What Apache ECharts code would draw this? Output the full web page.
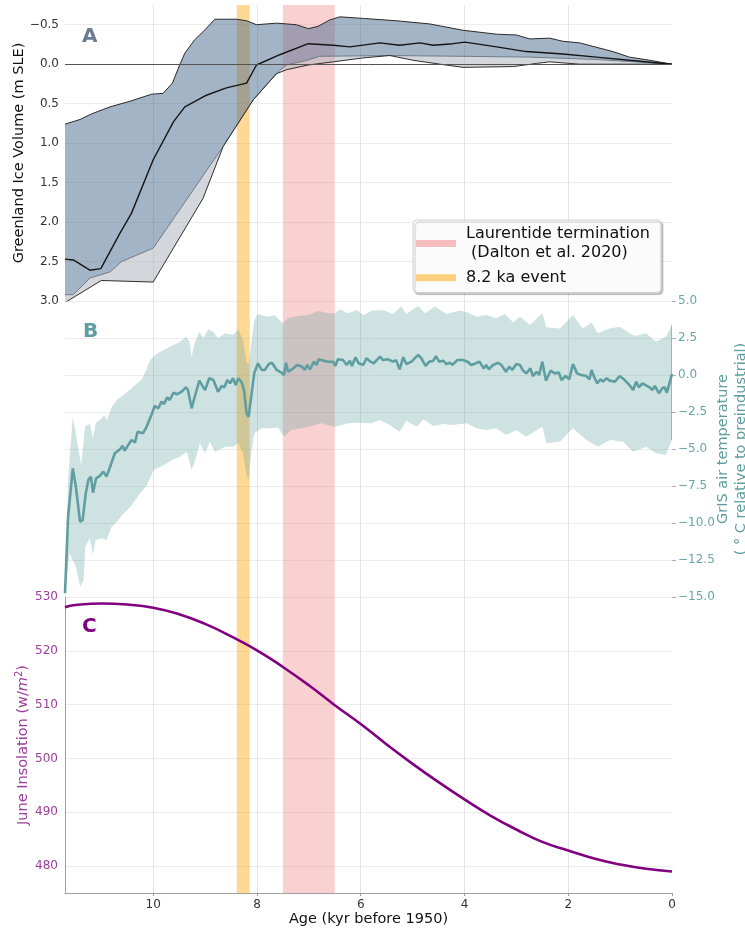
<!DOCTYPE html>
<html>
<head>
<meta charset="utf-8">
<script src="https://cdn.jsdelivr.net/npm/echarts@6/dist/echarts.min.js"></script>
<style>
  html, body { margin: 0; padding: 0; background: #fff; }
  #chart { width: 745px; height: 928px; }
</style>
</head>
<body>
<div id="chart"></div>
<script>
// ---------- Panel A: Greenland ice volume (m SLE) ----------
const iceUpperAge = [11.7, 11.41, 11.19, 10.83, 10.45, 10.03, 9.81, 9.63, 9.49, 9.39, 9.2, 9.04, 8.81, 8.39, 8.2, 8.01, 7.62, 7.24, 7.01, 6.82, 6.6, 6.4, 5.95, 5.31, 4.67, 4.03, 3.38, 3.0, 2.74, 2.36, 2.1, 1.78, 1.14, 0.82, 0.43, 0];
const iceUpper = [0.76, 0.70, 0.63, 0.54, 0.47, 0.38, 0.37, 0.24, 0.01, -0.14, -0.31, -0.41, -0.57, -0.57, -0.55, -0.50, -0.52, -0.50, -0.45, -0.48, -0.56, -0.60, -0.58, -0.55, -0.51, -0.43, -0.38, -0.37, -0.32, -0.33, -0.29, -0.27, -0.16, -0.09, -0.05, 0];

const iceMedianAge = [11.7, 11.54, 11.22, 11.01, 10.64, 10.42, 10.0, 9.61, 9.39, 9.0, 8.59, 8.2, 8.01, 7.56, 7.01, 6.53, 6.21, 5.63, 5.25, 4.86, 4.6, 4.22, 3.99, 3.38, 2.81, 2.1, 1.46, 0.82, 0];
const iceMedian = [2.47, 2.48, 2.61, 2.59, 2.14, 1.89, 1.21, 0.73, 0.54, 0.40, 0.30, 0.24, 0.01, -0.12, -0.26, -0.24, -0.22, -0.27, -0.24, -0.27, -0.24, -0.26, -0.28, -0.22, -0.16, -0.13, -0.09, -0.05, 0];

const iceInnerLowAge = [11.7, 11.54, 11.22, 10.83, 10.61, 10.0, 8.65, 8.07, 7.62, 7.43, 7.04, 6.79, 5.44, 4.03, 2.74, 1.46, 0];
const iceInnerLow = [2.92, 2.92, 2.71, 2.63, 2.50, 2.33, 1.04, 0.45, 0.11, 0.01, -0.05, -0.10, -0.11, -0.10, -0.09, -0.06, 0];

const iceOuterLowAge = [11.7, 11.0, 10.0, 9.04, 8.65, 8.07, 7.62, 7.43, 7.01, 6.53, 5.95, 5.44, 4.99, 4.47, 4.03, 3.06, 2.61, 2.36, 1.78, 0];
const iceOuterLow = [3.02, 2.74, 2.76, 1.70, 1.04, 0.45, 0.12, 0.07, 0.01, -0.03, -0.08, -0.11, -0.05, 0.00, 0.04, 0.03, -0.01, -0.03, 0.00, 0];

const iceTicks = [-0.5, 0, 0.5, 1, 1.5, 2, 2.5, 3];

// ---------- Panel B: GrIS air temperature ----------
const tempAge = [11.70, 11.64, 11.55, 11.49, 11.41, 11.36, 11.30, 11.25, 11.20, 11.16, 11.10, 11.03, 10.96, 10.90, 10.83, 10.74, 10.64, 10.59, 10.55, 10.48, 10.42, 10.35, 10.30, 10.20, 10.14, 10.06, 9.97, 9.90, 9.84, 9.79, 9.73, 9.68, 9.61, 9.54, 9.45, 9.37, 9.33, 9.26, 9.20, 9.11, 9.05, 9.00, 8.92, 8.84, 8.75, 8.68, 8.63, 8.57, 8.52, 8.46, 8.41, 8.36, 8.30, 8.25, 8.20, 8.16, 8.12, 8.05, 7.98, 7.91, 7.85, 7.77, 7.71, 7.62, 7.53, 7.48, 7.44, 7.40, 7.30, 7.22, 7.13, 7.08, 7.03, 6.98, 6.90, 6.85, 6.81, 6.72, 6.63, 6.53, 6.49, 6.44, 6.34, 6.27, 6.21, 6.17, 6.10, 6.04, 5.95, 5.89, 5.81, 5.75, 5.63, 5.57, 5.47, 5.38, 5.32, 5.25, 5.18, 5.12, 5.02, 4.96, 4.89, 4.83, 4.75, 4.68, 4.60, 4.55, 4.49, 4.41, 4.35, 4.28, 4.23, 4.14, 4.03, 3.94, 3.87, 3.78, 3.71, 3.63, 3.58, 3.53, 3.45, 3.35, 3.29, 3.20, 3.14, 3.08, 3.00, 2.93, 2.88, 2.81, 2.73, 2.68, 2.61, 2.56, 2.50, 2.43, 2.34, 2.26, 2.18, 2.13, 2.05, 1.98, 1.91, 1.83, 1.75, 1.65, 1.59, 1.55, 1.49, 1.44, 1.38, 1.33, 1.26, 1.20, 1.10, 1.01, 0.91, 0.82, 0.75, 0.69, 0.64, 0.57, 0.51, 0.43, 0.38, 0.33, 0.25, 0.19, 0.14, 0.10, 0.04, 0.00];
const tempMean = [-14.75, -9.57, -6.31, -7.55, -9.91, -9.80, -8.00, -7.09, -6.87, -7.95, -6.98, -6.82, -6.53, -6.87, -6.20, -5.29, -5.02, -4.78, -5.11, -4.73, -4.39, -4.55, -3.83, -3.94, -3.60, -2.93, -2.09, -2.25, -1.80, -1.96, -1.51, -1.69, -1.20, -1.30, -1.13, -0.83, -1.01, -2.25, -1.47, -0.38, -0.74, -1.01, -0.22, -0.34, -1.13, -0.74, -0.83, -0.34, -0.56, -0.22, -0.68, -0.22, -0.45, -1.01, -2.59, -2.82, -1.69, 0.16, 0.79, 0.34, 0.34, 0.74, 0.83, 0.34, 0.16, 0.00, 0.83, 0.22, 0.45, 0.68, 0.56, 0.34, 0.68, 0.38, 0.90, 0.68, 1.06, 0.97, 0.90, 0.90, 0.61, 1.06, 1.01, 0.68, 0.97, 0.61, 1.20, 0.79, 0.68, 1.13, 0.90, 0.79, 1.24, 1.01, 1.06, 0.90, 1.01, 0.38, 1.20, 0.74, 0.90, 1.13, 1.35, 1.13, 0.61, 0.90, 0.97, 1.28, 0.90, 0.97, 0.74, 0.83, 0.68, 1.01, 1.01, 0.90, 0.68, 0.79, 0.90, 0.45, 0.68, 0.38, 0.68, 0.83, 0.68, 0.22, 0.56, 0.34, 0.74, 0.68, 0.34, 0.11, 0.45, -0.07, 0.22, 0.00, 0.90, -0.38, 0.29, 0.11, 0.16, -0.34, -0.07, -0.29, 0.74, 0.11, 0.00, -0.07, -0.29, 0.34, -0.22, -0.56, -0.29, -0.45, -0.22, -0.38, -0.45, -0.07, -0.34, -0.68, -1.01, -0.45, -0.83, -0.56, -0.68, -0.83, -1.01, -0.74, -1.24, -0.90, -0.83, -1.20, -0.45, 0.07];

const tempHighAge = [11.70, 11.64, 11.55, 11.47, 11.39, 11.34, 11.31, 11.22, 11.16, 11.11, 10.99, 10.95, 10.89, 10.80, 10.67, 10.57, 10.44, 10.31, 10.23, 10.15, 10.06, 9.96, 9.86, 9.73, 9.61, 9.48, 9.37, 9.30, 9.26, 9.20, 9.11, 9.03, 8.94, 8.84, 8.75, 8.61, 8.46, 8.36, 8.27, 8.20, 8.16, 8.11, 8.05, 7.98, 7.79, 7.66, 7.50, 7.40, 7.21, 7.01, 6.82, 6.63, 6.50, 6.40, 6.24, 6.08, 5.95, 5.79, 5.57, 5.38, 5.22, 5.12, 4.89, 4.76, 4.57, 4.35, 4.10, 3.97, 3.77, 3.58, 3.39, 3.22, 3.06, 2.93, 2.74, 2.50, 2.42, 2.16, 1.91, 1.72, 1.55, 1.43, 1.20, 1.01, 0.82, 0.72, 0.50, 0.31, 0.12, 0.00];
const tempHigh = [-14.75, -7.0, -2.82, -4.39, -6.08, -4.39, -3.45, -3.31, -4.28, -3.26, -2.93, -2.70, -3.04, -2.14, -1.57, -1.35, -0.97, -0.56, -0.34, 0.22, 1.01, 1.35, 1.57, 1.80, 2.03, 2.25, 2.59, 2.25, 1.24, 2.14, 2.93, 2.48, 3.09, 2.93, 2.48, 2.82, 2.70, 3.09, 2.36, 0.90, 0.68, 2.14, 3.72, 4.12, 3.94, 4.05, 3.49, 3.83, 3.99, 4.05, 4.34, 4.17, 4.17, 4.44, 4.17, 4.39, 4.05, 4.34, 4.39, 4.12, 4.62, 4.12, 4.66, 4.17, 4.62, 4.12, 4.34, 4.28, 3.94, 4.05, 3.83, 4.12, 3.54, 3.94, 3.38, 4.17, 3.22, 3.15, 4.05, 3.15, 3.54, 2.82, 3.15, 3.26, 2.82, 2.64, 2.82, 2.25, 2.59, 3.38];

const tempLowAge = [11.70, 11.61, 11.49, 11.41, 11.34, 11.31, 11.22, 11.16, 11.11, 10.99, 10.90, 10.80, 10.70, 10.57, 10.44, 10.25, 10.12, 9.99, 9.86, 9.73, 9.61, 9.48, 9.35, 9.26, 9.17, 9.10, 9.00, 8.91, 8.81, 8.61, 8.46, 8.36, 8.27, 8.20, 8.16, 8.11, 8.05, 7.91, 7.72, 7.59, 7.48, 7.34, 7.14, 6.95, 6.76, 6.50, 6.24, 6.04, 5.79, 5.63, 5.44, 5.25, 5.12, 4.92, 4.79, 4.60, 4.41, 4.22, 3.96, 3.77, 3.58, 3.39, 3.20, 3.00, 2.81, 2.50, 2.42, 2.16, 1.91, 1.65, 1.43, 1.20, 0.94, 0.75, 0.50, 0.31, 0.12, 0.00];
const tempLow = [-14.75, -12.05, -12.95, -14.30, -13.85, -11.60, -11.03, -12.16, -11.15, -11.03, -11.15, -10.25, -9.91, -9.35, -8.90, -7.99, -7.43, -6.42, -6.20, -5.97, -5.70, -5.52, -5.18, -6.42, -5.52, -4.61, -5.29, -4.51, -5.18, -4.84, -4.84, -4.61, -5.29, -6.76, -7.09, -5.29, -3.94, -3.60, -3.60, -3.54, -4.17, -3.72, -3.60, -3.45, -3.26, -3.49, -3.26, -3.22, -3.26, -3.04, -3.38, -3.83, -3.09, -3.49, -2.99, -3.45, -3.31, -3.38, -3.26, -3.60, -3.72, -3.60, -4.05, -3.72, -4.17, -3.49, -4.61, -4.51, -3.60, -4.39, -4.84, -4.39, -4.51, -5.18, -4.84, -5.29, -5.40, -4.39];

// ---------- Panel C: June insolation ----------
const insolAge = [11.7, 11.5, 11.0, 10.5, 10.0, 9.5, 9.0, 8.5, 8.0, 7.5, 7.0, 6.5, 6.0, 5.5, 5.0, 4.5, 4.0, 3.5, 3.0, 2.5, 2.0, 1.5, 1.0, 0.5, 0.0];
const insolation = [528.1, 528.5, 528.8, 528.6, 528.0, 526.8, 525.0, 522.7, 520.1, 517.0, 513.6, 509.9, 506.4, 502.6, 499.0, 495.6, 492.4, 489.4, 486.8, 484.5, 482.9, 481.4, 480.3, 479.5, 479.0];
const insolTicks = [480, 490, 500, 510, 520, 530];

// ---------- Event windows (kyr BP) ----------
const laurentideSpan = [7.5, 6.5];
const event82Span = [8.39, 8.14];
const LAUR_NAME = 'Laurentide termination\n (Dalton et al. 2020)';
const EVENT_NAME = '8.2 ka event';

const FONT = 'DejaVu Sans';
const TEAL = '#5f9ea0';
const PURPLE = '#800080';
const AGE_MAX = 11.7;

const pairs = (xs, ys) => xs.map((x, i) => [x, ys[i]]);
const minus = (s) => s.replace('-', '\u2212');

// Filled region between two polylines, projected through the grid's axes
function bandSeries(gi, topX, topY, botX, botY, fill, z, edge) {
  return {
    type: 'custom', xAxisIndex: gi, yAxisIndex: gi, z: z, silent: true, clip: true,
    data: [[topX[0], topY[0]]],
    renderItem: function (params, api) {
      const pts = [];
      for (let i = 0; i < topX.length; i++) pts.push(api.coord([topX[i], topY[i]]));
      for (let i = botX.length - 1; i >= 0; i--) pts.push(api.coord([botX[i], botY[i]]));
      const children = [{ type: 'polygon', shape: { points: pts }, style: { fill: fill, stroke: null } }];
      if (edge) {
        // closing edge of the band at the young end of the record
        const a = api.coord([topX[topX.length - 1], topY[topY.length - 1]]);
        const b = api.coord([botX[botX.length - 1], botY[botY.length - 1]]);
        children.push({ type: 'line', shape: { x1: a[0], y1: a[1], x2: b[0], y2: b[1] }, style: { stroke: edge, lineWidth: 1 } });
      }
      return { type: 'group', children: children };
    }
  };
}

function lineSeries(gi, xs, ys, color, width, z, smooth) {
  return {
    type: 'line', xAxisIndex: gi, yAxisIndex: gi, z: z, silent: true,
    data: pairs(xs, ys), showSymbol: false, smooth: !!smooth,
    lineStyle: { color: color, width: width }, itemStyle: { color: color }
  };
}

function spanSeries(gi) {
  return [
    {
      name: LAUR_NAME, type: 'line', xAxisIndex: gi, yAxisIndex: gi, data: [], z: 1, silent: true,
      itemStyle: { color: 'rgba(240,128,128,0.5)' },
      markArea: { silent: true, itemStyle: { color: 'rgba(240,128,128,0.36)' },
        data: [[{ xAxis: laurentideSpan[0] }, { xAxis: laurentideSpan[1] }]] }
    },
    {
      name: EVENT_NAME, type: 'line', xAxisIndex: gi, yAxisIndex: gi, data: [], z: 1, silent: true,
      itemStyle: { color: 'rgba(255,165,0,0.5)' },
      markArea: { silent: true, itemStyle: { color: 'rgba(255,165,0,0.42)' },
        data: [[{ xAxis: event82Span[0] }, { xAxis: event82Span[1] }]] }
    }
  ];
}

const grids = [
  { left: 65, right: 73, top: 5, height: 296, outerBoundsMode: 'none' },
  { left: 65, right: 73, top: 301, height: 296, outerBoundsMode: 'none' },
  { left: 65, right: 73, top: 597, height: 296, outerBoundsMode: 'none' }
];

const xAxes = [0, 1, 2].map(gi => ({
  type: 'value', gridIndex: gi, min: 0, max: AGE_MAX, interval: 2, inverse: true,
  axisLine: { show: gi === 2, onZero: false, lineStyle: { color: '#a0a0a0' } },
  axisTick: { show: gi === 2, length: 3, lineStyle: { color: '#a0a0a0' } },
  axisLabel: { show: gi === 2, showMaxLabel: false, color: '#333', fontSize: 12, fontFamily: FONT, margin: 6 },
  splitLine: { show: true, showMinLine: false, showMaxLine: false, lineStyle: { color: '#e4e4e4', width: 1 } },
  name: gi === 2 ? 'Age (kyr before 1950)' : '',
  nameLocation: 'middle', nameGap: 19, nameMoveOverlap: false,
  nameTextStyle: { fontSize: 14.5, color: '#111', fontFamily: FONT }
}));

const yAxes = [
  {
    type: 'value', gridIndex: 0, inverse: true, min: -0.75, max: 3.0,
    axisLine: { show: false, onZero: false }, axisTick: { show: false, customValues: iceTicks },
    axisLabel: { customValues: iceTicks, color: '#333', fontSize: 12, fontFamily: FONT, margin: 6,
      formatter: v => minus(Number(v).toFixed(1)) },
    splitLine: { show: true, lineStyle: { color: '#ececec' } },
    name: 'Greenland Ice Volume (m SLE)', nameLocation: 'middle', nameGap: 38, nameRotate: 90, nameMoveOverlap: false,
    nameTextStyle: { fontSize: 14.5, color: '#111', fontFamily: FONT }
  },
  {
    type: 'value', gridIndex: 1, position: 'right', min: -15, max: 5, interval: 2.5,
    axisLine: { show: false, onZero: false },
    axisTick: { show: true, length: 4, lineStyle: { color: '#b0b0b0' } },
    axisLabel: { color: '#6aa6a8', fontSize: 12, fontFamily: FONT, margin: 6,
      formatter: v => minus(Number(v).toFixed(1)) },
    splitLine: { show: true, lineStyle: { color: '#ececec' } },
    name: 'GrIS air temperature\n( \u00b0 C relative to preindustrial)', nameLocation: 'middle', nameGap: 42, nameRotate: 90, nameMoveOverlap: false,
    nameTextStyle: { fontSize: 14.5, color: TEAL, fontFamily: FONT, lineHeight: 18 }
  },
  {
    type: 'value', gridIndex: 2, min: 475, max: 530,
    axisLine: { show: true, onZero: false, lineStyle: { color: '#a0a0a0' } },
    axisTick: { show: false, customValues: insolTicks },
    axisLabel: { customValues: insolTicks, color: '#9b3d9b', fontSize: 12, fontFamily: FONT, margin: 7 },
    splitLine: { show: true, lineStyle: { color: '#ececec' } },
    name: 'June Insolation (w/{it|m}{sup|2})', nameLocation: 'middle', nameGap: 33, nameRotate: 90, nameMoveOverlap: false,
    nameTextStyle: { fontSize: 14.5, color: '#9b3d9b', fontFamily: FONT,
      rich: {
        it: { fontSize: 14.5, fontStyle: 'italic', color: '#9b3d9b', fontFamily: FONT },
        sup: { fontSize: 10, color: '#9b3d9b', fontFamily: FONT, verticalAlign: 'top', padding: [0, 0, 8, 0] }
      } }
  }
];

const series = [
  ...spanSeries(0),
  bandSeries(0, iceInnerLowAge, iceInnerLow, iceOuterLowAge, iceOuterLow, 'rgba(167,175,183,0.5)', 2),
  bandSeries(0, iceUpperAge, iceUpper, iceInnerLowAge, iceInnerLow, 'rgba(74,106,144,0.5)', 2),
  lineSeries(0, iceInnerLowAge, iceInnerLow, '#6f7a88', 1, 3),
  lineSeries(0, iceOuterLowAge, iceOuterLow, '#2e2e2e', 1, 3),
  lineSeries(0, iceUpperAge, iceUpper, '#2a2a2a', 1, 3),
  Object.assign(lineSeries(0, iceMedianAge, iceMedian, '#151515', 1.4, 4), {
    markLine: { silent: true, symbol: 'none', label: { show: false },
      lineStyle: { color: '#555', width: 1, type: 'solid' }, data: [{ yAxis: 0 }] }
  }),
  ...spanSeries(1),
  bandSeries(1, tempHighAge, tempHigh, tempLowAge, tempLow, 'rgba(95,158,160,0.3)', 2, 'rgba(70,120,122,0.8)'),
  lineSeries(1, tempAge, tempMean, TEAL, 2.6, 4),
  ...spanSeries(2),
  lineSeries(2, insolAge, insolation, PURPLE, 2.6, 4, true)
];

const chart = echarts.init(document.getElementById('chart'), null, { renderer: 'canvas' });
chart.setOption({
  animation: false,
  backgroundColor: '#ffffff',
  textStyle: { fontFamily: FONT },
  title: [
    { text: 'A', left: 82, top: 27, padding: 0, textStyle: { fontSize: 20, fontWeight: 'bold', color: '#6b7b92', fontFamily: FONT } },
    { text: 'B', left: 83, top: 322, padding: 0, textStyle: { fontSize: 20, fontWeight: 'bold', color: TEAL, fontFamily: FONT } },
    { text: 'C', left: 82, top: 617, padding: 0, textStyle: { fontSize: 20, fontWeight: 'bold', color: PURPLE, fontFamily: FONT } }
  ],
  legend: {
    orient: 'vertical', left: 413, top: 220, padding: [4, 11, 5, 3],
    itemWidth: 40, itemHeight: 7, itemGap: 5,
    backgroundColor: 'rgba(255,255,255,0.92)', borderColor: '#cfcfcf', borderWidth: 1, borderRadius: 4,
    shadowColor: 'rgba(0,0,0,0.22)', shadowBlur: 1, shadowOffsetX: 2, shadowOffsetY: 2,
    selectedMode: false,
    textStyle: { fontSize: 16, color: '#111', fontFamily: FONT, lineHeight: 19.5, padding: [0, 0, 0, 5] },
    data: [
      { name: LAUR_NAME, icon: 'rect', itemStyle: { color: 'rgba(240,128,128,0.5)' } },
      { name: EVENT_NAME, icon: 'rect', itemStyle: { color: 'rgba(255,165,0,0.5)' } }
    ]
  },
  grid: grids,
  xAxis: xAxes,
  yAxis: yAxes,
  series: series
});
</script>
</body>
</html>
